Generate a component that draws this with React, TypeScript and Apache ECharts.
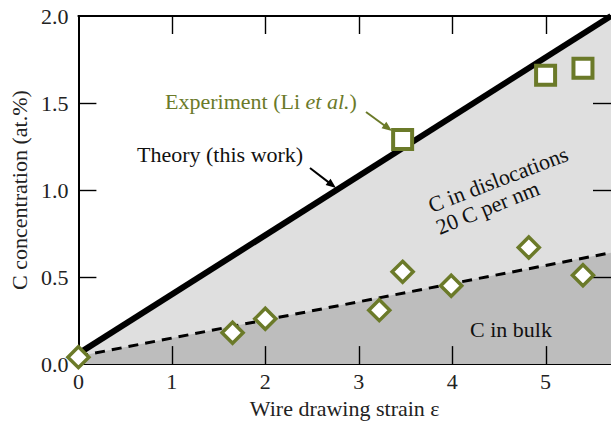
import React, { useEffect, useRef } from "react";
import * as echarts from "echarts";

// Measured carbon concentration vs. drawing strain (diamonds: bulk, squares: total)
const bulkStrain = [0, 1.65, 2.0, 3.22, 3.47, 3.99, 4.82, 5.4];
const bulkConc = [0.04, 0.18, 0.26, 0.31, 0.53, 0.45, 0.67, 0.51];
const totalStrain = [3.47, 5.0, 5.4];
const totalConc = [1.29, 1.66, 1.7];

// Model lines: theory (dislocations, 20 C per nm) and bulk trend
const theoryStrain = [0, 5.7];
const theoryConc = [0.06, 2.0];
const bulkFitStrain = [0, 5.7];
const bulkFitConc = [0.045, 0.64];

// Axis ranges and tick positions
const X_MAX = 5.7;
const Y_MAX = 2;
const xTickValues = [0, 1, 2, 3, 4, 5];
const yTickValues = [0, 0.5, 1, 1.5, 2];
const yTicks = ["0.0", "0.5", "1.0", "1.5", "2.0"];

const OLIVE = "#6b7a29";
const FONT = "'Liberation Serif', 'Times New Roman', serif";
const TICK_LEN = 18;
const GRID = { left: 77, top: 16, width: 535, height: 353 };

function zip(xs: number[], ys: number[]) {
  return xs.map((x, i) => [x, ys[i]]);
}

function arrow(x1: number, y1: number, x2: number, y2: number, color: string) {
  const dx = x2 - x1;
  const dy = y2 - y1;
  const len = Math.hypot(dx, dy);
  const ux = dx / len;
  const uy = dy / len;
  const hl = 10;
  const hw = 4;
  const bx = x2 - ux * hl;
  const by = y2 - uy * hl;
  return [
    {
      type: "line",
      shape: { x1, y1, x2: bx + ux * 2, y2: by + uy * 2 },
      style: { stroke: color, lineWidth: 2 },
      z: 20,
    },
    {
      type: "polygon",
      shape: {
        points: [
          [x2, y2],
          [bx - uy * hw, by + ux * hw],
          [bx + uy * hw, by - ux * hw],
        ],
      },
      style: { fill: color },
      z: 20,
    },
  ];
}

const frameLine = () => ({ show: true, onZero: false, lineStyle: { color: "#000", width: 2 } });

const xBase = () => ({
  type: "value" as const,
  min: 0,
  max: X_MAX,
  interval: 1,
  splitLine: { show: false },
  axisLine: frameLine(),
  axisTick: { show: false },
});
const yBase = () => ({
  type: "value" as const,
  min: 0,
  max: Y_MAX,
  interval: 0.5,
  splitLine: { show: false },
  axisLine: frameLine(),
  axisTick: { show: false },
});

export default function App() {
  const ref = useRef<HTMLDivElement>(null);

  useEffect(() => {
    if (!ref.current) return;
    const chart = echarts.init(ref.current, undefined, { renderer: "svg" });

    const rot1 = (21 * Math.PI) / 180;
    const rot2 = (22 * Math.PI) / 180;

    const annotations: any[] = [
      {
        type: "text",
        x: 165,
        y: 101,
        z: 20,
        style: {
          text: "{a|Experiment (Li }{b|et al.}{a|)}",
          fill: OLIVE,
          verticalAlign: "middle",
          rich: {
            a: { fontFamily: FONT, fontSize: 22, fill: OLIVE },
            b: { fontFamily: FONT, fontSize: 22, fontStyle: "italic", fill: OLIVE },
          },
        },
      },
      ...arrow(366, 112, 392, 131, OLIVE),
      {
        type: "text",
        x: 137,
        y: 154,
        z: 20,
        style: {
          text: "Theory (this work)",
          fill: "#111",
          font: `22px ${FONT}`,
          verticalAlign: "middle",
        },
      },
      ...arrow(310, 168, 336, 188, "#000"),
      {
        type: "text",
        x: 429,
        y: 206,
        rotation: rot1,
        z: 20,
        style: {
          text: "C in dislocations",
          fill: "#111",
          font: `22px ${FONT}`,
          align: "left",
          verticalAlign: "middle",
        },
      },
      {
        type: "text",
        x: 437,
        y: 228,
        rotation: rot2,
        z: 20,
        style: {
          text: "20 C per nm",
          fill: "#111",
          font: `22px ${FONT}`,
          align: "left",
          verticalAlign: "middle",
        },
      },
      {
        type: "text",
        x: 511,
        y: 329,
        z: 20,
        style: {
          text: "C in bulk",
          fill: "#111",
          font: `22px ${FONT}`,
          align: "center",
          verticalAlign: "middle",
        },
      },
    ];

    chart.setOption({
      animation: false,
      backgroundColor: "#fff",
      textStyle: { fontFamily: FONT },
      grid: { ...GRID },
      xAxis: [
        {
          ...xBase(),
          position: "bottom",
          name: "Wire drawing strain \u03b5",
          nameLocation: "middle",
          nameGap: 31,
          nameTextStyle: { fontFamily: FONT, fontSize: 22, color: "#222" },
          axisLabel: {
            fontFamily: FONT,
            fontSize: 22,
            color: "#222",
            margin: 6,
            showMaxLabel: false,
            formatter: (v: number) => (Number.isInteger(v) ? String(v) : ""),
          },
        },
        { ...xBase(), position: "top", axisLabel: { show: false } },
      ],
      yAxis: [
        {
          ...yBase(),
          position: "left",
          name: "C concentration (at.%)",
          nameLocation: "middle",
          nameGap: 44,
          nameTextStyle: { fontFamily: FONT, fontSize: 22, color: "#222" },
          axisLabel: {
            fontFamily: FONT,
            fontSize: 22,
            color: "#222",
            margin: 10,
            formatter: (v: number) => yTicks[Math.round(v * 2)] ?? "",
          },
        },
        { ...yBase(), position: "right", axisLabel: { show: false } },
      ],
      series: [
        {
          type: "line",
          data: zip(theoryStrain, theoryConc),
          symbol: "none",
          lineStyle: { color: "#000", width: 6 },
          areaStyle: { color: "#dfdfdf", opacity: 1 },
          z: 2,
        },
        {
          type: "line",
          data: zip(bulkFitStrain, bulkFitConc),
          symbol: "none",
          lineStyle: { color: "#000", width: 3, type: [10, 7] },
          areaStyle: { color: "#bdbdbd", opacity: 1 },
          z: 3,
        },
        {
          type: "scatter",
          data: zip(bulkStrain, bulkConc),
          symbol: "diamond",
          symbolSize: 21,
          clip: false,
          itemStyle: { color: "#fff", borderColor: OLIVE, borderWidth: 3.5, opacity: 1 },
          z: 10,
        },
        {
          type: "scatter",
          data: zip(totalStrain, totalConc),
          symbol: "rect",
          symbolSize: 19,
          clip: false,
          itemStyle: { color: "#fff", borderColor: OLIVE, borderWidth: 4, opacity: 1 },
          z: 10,
        },
      ],
      graphic: annotations,
    });

    // Inward-pointing frame ticks on all four sides, placed through the axis scales
    const toNum = (r: any, fallback: number) => {
      const n = Array.isArray(r) ? Number(r[0]) : Number(r);
      return Number.isFinite(n) ? n : fallback;
    };
    const px = (v: number) =>
      toNum(chart.convertToPixel({ xAxisIndex: 0 }, v), GRID.left + (v / X_MAX) * GRID.width);
    const py = (v: number) => {
      const r: any = chart.convertToPixel({ yAxisIndex: 0 }, v);
      const n = Array.isArray(r) ? Number(r[1]) : Number(r);
      return Number.isFinite(n) ? n : GRID.top + GRID.height - (v / Y_MAX) * GRID.height;
    };
    const left = px(0);
    const right = px(X_MAX);
    const bottom = py(0);
    const top = py(Y_MAX);
    const tickStyle = { stroke: "#000", lineWidth: 1.4 };
    const ticks: any[] = [];
    xTickValues
      .filter((v) => v > 0)
      .forEach((v) => {
        const x = Math.round(px(v)) + 0.5;
        ticks.push({ type: "line", z: 9, silent: true, shape: { x1: x, y1: bottom, x2: x, y2: bottom - TICK_LEN }, style: tickStyle });
        ticks.push({ type: "line", z: 9, silent: true, shape: { x1: x, y1: top, x2: x, y2: top + TICK_LEN }, style: tickStyle });
      });
    yTickValues
      .filter((v) => v > 0 && v < Y_MAX)
      .forEach((v) => {
        const y = Math.round(py(v)) + 0.5;
        ticks.push({ type: "line", z: 9, silent: true, shape: { x1: left, y1: y, x2: left + TICK_LEN, y2: y }, style: tickStyle });
        ticks.push({ type: "line", z: 9, silent: true, shape: { x1: right, y1: y, x2: right - TICK_LEN, y2: y }, style: tickStyle });
      });

    chart.setOption({ graphic: [...annotations, ...ticks] });

    return () => chart.dispose();
  }, []);

  return (
    <div
      ref={ref}
      style={{ position: "fixed", left: 0, top: 0, width: 611, height: 424 }}
    />
  );
}
